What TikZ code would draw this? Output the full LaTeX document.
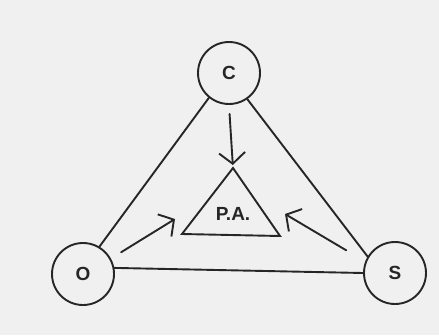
\documentclass[tikz,border=0pt]{standalone}
\usepackage{fontspec}
\setsansfont{Liberation Sans}
\usetikzlibrary{arrows.meta}

\begin{document}
\begin{tikzpicture}[x=1pt, y=-1pt, font=\sffamily\bfseries\fontsize{19}{22}\selectfont,
  color=black!85, line width=1.9pt, line cap=round,
  agent/.style={circle, draw, minimum size=62pt, inner sep=0pt},
  push/.style={-{Straight Barb[length=11pt,width=26pt]}}]
  % paper
  \fill[black!6] (0,0) rectangle (439,335);
  \useasboundingbox (0,0) rectangle (439,335);
  % the three corners
  \node[agent] (c) at (229,73) {C};
  \node[agent] (o) at (83,274) {O};
  \node[agent] (s) at (395,273) {S};
  % outer triangle
  \draw (c.231) -- (o.59);
  \draw (c.305) -- (s.149);
  \draw (o.11) -- (s.180);
  % inner triangle P.A.
  \coordinate (paTop) at (233,168);
  \coordinate (paL) at (182,234);
  \coordinate (paR) at (280,236);
  \draw (paTop) -- (paL) -- (paR) -- cycle;
  \node (pa) at (233,214) {P.A.};
  % arrows towards P.A.
  \coordinate (oTip) at (175,219);
  \coordinate (sTip) at (285,214);
  \draw[push, shorten <=9pt, shorten >=3pt] (c.270) -- (paTop);
  \draw[push, shorten <=12pt] (o.29) -- (oTip);
  \draw[push, shorten <=22pt] (s.159) -- (sTip);
\end{tikzpicture}
\end{document}
